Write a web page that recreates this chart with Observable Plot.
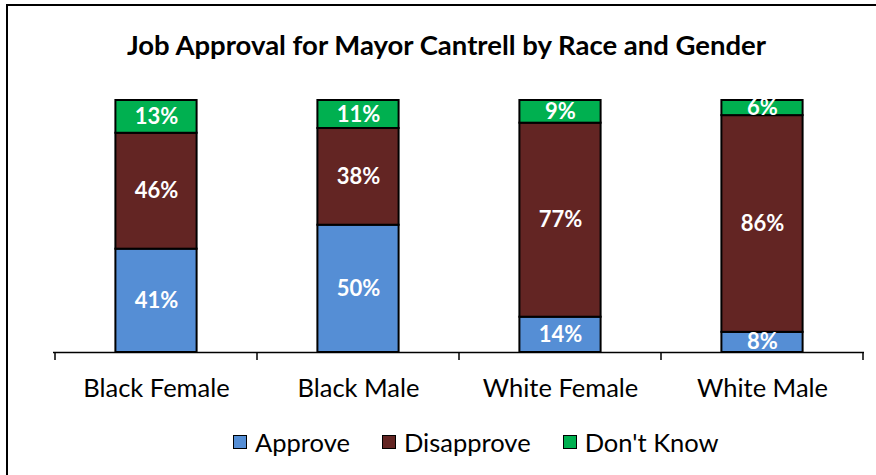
<!DOCTYPE html>
<html><head><meta charset="utf-8">
<script src="https://cdn.jsdelivr.net/npm/d3@7"></script>
<script src="https://cdn.jsdelivr.net/npm/@observablehq/plot@0.6"></script>
<style>
html,body{margin:0;padding:0;background:#fff;}
#frame{position:relative;width:876px;height:475px;overflow:hidden;font-family:Lato,sans-serif;color:#000;background:#fff;}
#border{position:absolute;left:6px;top:4px;width:900px;height:500px;border-left:2px solid #000;border-top:2px solid #000;box-sizing:border-box;}
#title{position:absolute;left:0;width:893px;top:27px;text-align:center;font-weight:bold;font-size:27.5px;line-height:36px;}
#chart{position:absolute;left:0;top:80px;}
#legend{position:absolute;left:233px;top:427px;display:flex;align-items:center;font-size:25.5px;line-height:30px;}
.item{display:flex;align-items:center;margin-right:32px;}
.sw{width:12px;height:12px;border:1.5px solid #000;margin-right:8px;}
</style></head>
<body>
<div id="frame">
  <div id="border"></div>
  <div id="title">Job Approval for Mayor Cantrell by Race and Gender</div>
  <div id="chart"></div>
  <div id="legend"></div>
</div>
<script>
const categories = ["Black Female", "Black Male", "White Female", "White Male"];
const responses = ["Approve", "Disapprove", "Don't Know"];
const colors = ["#558ED5", "#632523", "#00B050"];
const approve = [41, 50, 14, 8];
const disapprove = [46, 38, 77, 86];
const dontKnow = [13, 11, 9, 6];

const series = [approve, disapprove, dontKnow];
const rows = [];
categories.forEach((c, i) => {
  responses.forEach((r, j) => rows.push({cat: c, resp: r, value: series[j][i]}));
});

function bandTicks(index, scales) {
  const x = scales.x;
  const xs = categories.map(c => x(c));
  const step = (xs[xs.length - 1] - xs[0]) / (xs.length - 1);
  const base = scales.y(0);
  const g = d3.create("svg:g").attr("stroke", "#000").attr("stroke-width", 1.5);
  xs.concat([xs[xs.length - 1] + step]).forEach(b => {
    g.append("line").attr("x1", b).attr("x2", b).attr("y1", base).attr("y2", base + 8);
  });
  return g.node();
}

const chart = Plot.plot({
  width: 876,
  height: 332,
  marginTop: 20,
  marginBottom: 60,
  marginLeft: 53,
  marginRight: 12,
  style: {fontFamily: "Lato, sans-serif", color: "#000", background: "transparent"},
  x: {domain: categories, padding: 0, label: null},
  y: {domain: [0, 1], axis: null},
  color: {domain: responses, range: colors},
  marks: [
    Plot.barY(rows, Plot.stackY({x: "cat", y: "value", fill: "resp", order: responses, offset: "normalize",
      insetLeft: 60.4, insetRight: 60.4, stroke: "#000", strokeWidth: 2})),
    Plot.text(rows, Plot.stackY({x: "cat", y: "value", z: "resp", order: responses, offset: "normalize",
      text: d => d.value + "%", fill: "white", fontWeight: "bold", fontSize: 22})),
    Plot.ruleY([0], {stroke: "#000", strokeWidth: 1.5}),
    bandTicks,
    Plot.axisX({tickSize: 0, tickPadding: 26, fontSize: 25.5, label: null})
  ]
});
document.getElementById("chart").appendChild(chart);

const legend = d3.select("#legend");
responses.forEach((r, i) => {
  const it = legend.append("div").attr("class", "item");
  it.append("div").attr("class", "sw").style("background", colors[i]);
  it.append("span").text(r);
});
</script>
</body></html>
